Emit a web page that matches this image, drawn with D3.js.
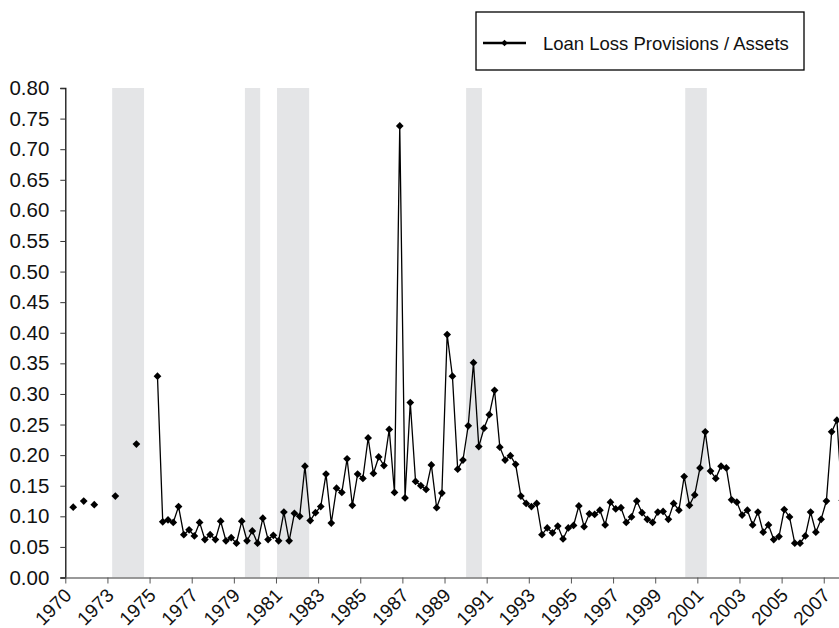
<!DOCTYPE html>
<meta charset="utf-8" />
<html>
<style>
  body { margin: 0; background: #fff; }
  svg { font-family: "Liberation Sans", Arial, Helvetica, sans-serif; }
  .band { fill: #e4e5e7; }
</style>
<body>
<svg width="839" height="628"></svg>
<script src="https://cdn.jsdelivr.net/npm/d3@7"></script>
<script>
  // quarterly loan loss provisions / assets, one value per category (null = no data)
  var values = [
    null, 0.115, null, 0.125, null, 0.119, null, null,
    null, 0.133, null, null, null, 0.218, null, null,
    null, 0.329, 0.091, 0.094, 0.090, 0.116, 0.070, 0.078,
    0.068, 0.090, 0.062, 0.070, 0.062, 0.092, 0.060, 0.065,
    0.056, 0.092, 0.060, 0.076, 0.056, 0.097, 0.062, 0.069,
    0.060, 0.107, 0.060, 0.105, 0.100, 0.182, 0.093, 0.106,
    0.116, 0.169, 0.089, 0.146, 0.139, 0.194, 0.118, 0.169,
    0.162, 0.228, 0.170, 0.197, 0.183, 0.242, 0.139, 0.738,
    0.130, 0.286, 0.157, 0.150, 0.144, 0.184, 0.114, 0.138,
    0.397, 0.329, 0.177, 0.192, 0.248, 0.351, 0.214, 0.244,
    0.266, 0.306, 0.213, 0.192, 0.199, 0.185, 0.133, 0.121,
    0.116, 0.121, 0.070, 0.081, 0.073, 0.084, 0.063, 0.081,
    0.085, 0.117, 0.083, 0.104, 0.103, 0.110, 0.086, 0.123,
    0.112, 0.114, 0.090, 0.099, 0.125, 0.106, 0.095, 0.090,
    0.107, 0.108, 0.095, 0.121, 0.110, 0.165, 0.118, 0.135,
    0.179, 0.238, 0.174, 0.162, 0.182, 0.179, 0.127, 0.123,
    0.102, 0.110, 0.086, 0.107, 0.074, 0.086, 0.062, 0.067,
    0.111, 0.099, 0.056, 0.056, 0.068, 0.107, 0.074, 0.095,
    0.125, 0.238, 0.257, 0.126
  ];

  // labels shown every 8 categories
  var tickLabels = ["1970", "1973", "1975", "1977", "1979", "1981", "1983", "1985",
    "1987", "1989", "1991", "1993", "1995", "1997", "1999", "2001", "2003", "2005", "2007"];

  // recessions, in category units [start, end]
  var recessions = [[8.9, 14.95], [34.1, 37.0], [40.2, 46.3], [76.1, 79.1], [117.7, 121.8]];

  var yTicks = d3.range(0, 0.801, 0.05);
  var seriesName = "Loan Loss Provisions / Assets";

  var svg = d3.select("svg");

  var nCats = 152;
  var x = d3.scaleLinear().domain([0, nCats]).range([65.3, 65.3 + nCats * 5.267]);
  var y = d3.scaleLinear().domain([0, 0.8]).range([577.5, 88]);

  // recession shading
  svg.append("g")
    .selectAll("rect")
    .data(recessions)
    .enter()
    .append("rect")
    .attr("class", "band")
    .attr("x", function (d) { return x(d[0]); })
    .attr("width", function (d) { return x(d[1]) - x(d[0]); })
    .attr("y", y(0.8))
    .attr("height", y(0) - y(0.8));

  // y axis
  var yAxis = svg.append("g")
    .attr("transform", "translate(" + x(0) + ",0)")
    .call(d3.axisLeft(y).tickValues(yTicks).tickFormat(d3.format(".2f")).tickSize(5).tickPadding(11));
  yAxis.selectAll("text").attr("font-size", "20.5px").attr("fill", "#111");
  yAxis.select(".domain").attr("stroke", "#111").attr("stroke-width", 1.3);
  yAxis.selectAll(".tick line").attr("stroke", "#333");

  // x axis
  var xAxis = svg.append("g")
    .attr("transform", "translate(0," + y(0) + ")")
    .call(d3.axisBottom(x)
      .tickValues(d3.range(0, nCats + 1, 8))
      .tickFormat(function (d) { return tickLabels[d / 8] || ""; })
      .tickSize(6)
      .tickSizeOuter(0));
  xAxis.select(".domain").attr("stroke", "#777").attr("stroke-width", 1.3);
  xAxis.selectAll(".tick line").attr("stroke", "#555");
  xAxis.selectAll("text")
    .attr("font-size", "19px")
    .attr("fill", "#111")
    .attr("text-anchor", "end")
    .attr("dy", null)
    .attr("y", 0)
    .attr("transform", "translate(7,19) rotate(-45)");

  // series line (breaks at missing values)
  var line = d3.line()
    .defined(function (d) { return d != null; })
    .x(function (d, i) { return x(i + 0.5); })
    .y(function (d) { return y(d); });

  svg.append("path")
    .datum(values)
    .attr("fill", "none")
    .attr("stroke", "#000")
    .attr("stroke-width", 1.3)
    .attr("d", line);

  var marker = d3.symbol().type(d3.symbolSquare).size(30);

  svg.append("g")
    .selectAll("path")
    .data(values.map(function (v, i) { return { i: i, v: v }; }).filter(function (d) { return d.v != null; }))
    .enter()
    .append("path")
    .attr("d", marker)
    .attr("fill", "#000")
    .attr("transform", function (d) {
      return "translate(" + x(d.i + 0.5) + "," + y(d.v) + ") rotate(45)";
    });

  // legend
  var lg = svg.append("g").attr("transform", "translate(476,12)");
  lg.append("rect")
    .attr("width", 328).attr("height", 58)
    .attr("fill", "#fff").attr("stroke", "#000").attr("stroke-width", 1.3);
  lg.append("line")
    .attr("x1", 7).attr("x2", 50).attr("y1", 31).attr("y2", 31)
    .attr("stroke", "#000").attr("stroke-width", 2.5);
  lg.append("path")
    .attr("d", d3.symbol().type(d3.symbolSquare).size(22))
    .attr("transform", "translate(28.5,31) rotate(45)");
  lg.append("text")
    .attr("x", 67).attr("y", 37.5)
    .attr("font-size", "18.5px")
    .attr("fill", "#111")
    .text(seriesName);
</script>
</body>
</html>
